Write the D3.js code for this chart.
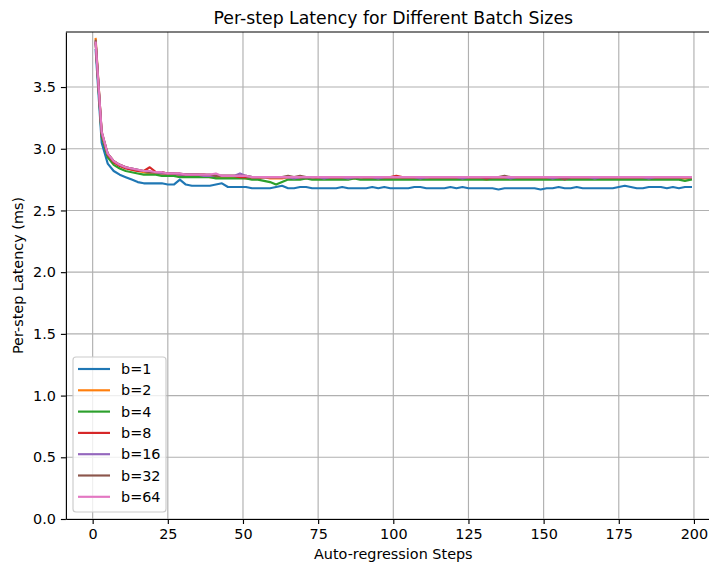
<!DOCTYPE html>
<html>
<head>
<meta charset="utf-8">
<script src="https://cdn.jsdelivr.net/npm/d3@7"></script>
<style>
  body { margin: 0; background: #fff; }
  svg { display: block; font-family: "DejaVu Sans", sans-serif; }
</style>
</head>
<body>
<svg id="chart" width="709" height="565"></svg>
<script>
// steps 1, 3, 5 ... 199
const steps = d3.range(1, 200, 2);

const b1 = [
  3.80, 3.05, 2.88, 2.82, 2.79, 2.77, 2.75, 2.73, 2.72, 2.72,
  2.72, 2.72, 2.71, 2.71, 2.75, 2.71, 2.70, 2.70, 2.70, 2.70,
  2.71, 2.72, 2.69, 2.69, 2.69, 2.69, 2.68, 2.68, 2.68, 2.68,
  2.69, 2.70, 2.68, 2.68, 2.69, 2.69, 2.68, 2.68, 2.68, 2.68,
  2.68, 2.69, 2.68, 2.68, 2.68, 2.68, 2.69, 2.68, 2.69, 2.68,
  2.68, 2.68, 2.68, 2.69, 2.69, 2.68, 2.68, 2.68, 2.68, 2.69,
  2.68, 2.69, 2.68, 2.68, 2.68, 2.68, 2.68, 2.67, 2.68, 2.68,
  2.68, 2.68, 2.68, 2.68, 2.67, 2.68, 2.68, 2.69, 2.68, 2.68,
  2.69, 2.68, 2.68, 2.68, 2.68, 2.68, 2.68, 2.69, 2.70, 2.69,
  2.68, 2.68, 2.69, 2.69, 2.69, 2.68, 2.69, 2.68, 2.69, 2.69
];
const b2 = [
  3.89, 3.13, 2.96, 2.90, 2.87, 2.85, 2.83, 2.82, 2.81, 2.80,
  2.80, 2.79, 2.80, 2.79, 2.79, 2.78, 2.78, 2.78, 2.78, 2.77,
  2.77, 2.77, 2.77, 2.77, 2.77, 2.76, 2.76, 2.76, 2.77, 2.76,
  2.76, 2.76, 2.77, 2.76, 2.76, 2.76, 2.77, 2.76, 2.76, 2.76,
  2.76, 2.76, 2.76, 2.76, 2.77, 2.76, 2.76, 2.76, 2.76, 2.76,
  2.76, 2.76, 2.76, 2.76, 2.76, 2.77, 2.76, 2.76, 2.76, 2.76,
  2.76, 2.76, 2.76, 2.76, 2.76, 2.75, 2.76, 2.76, 2.76, 2.76,
  2.76, 2.76, 2.76, 2.76, 2.76, 2.76, 2.76, 2.76, 2.76, 2.76,
  2.76, 2.76, 2.76, 2.76, 2.76, 2.76, 2.76, 2.76, 2.76, 2.76,
  2.76, 2.76, 2.76, 2.76, 2.76, 2.76, 2.76, 2.76, 2.76, 2.76
];
const b4 = [
  3.86, 3.10, 2.93, 2.87, 2.84, 2.82, 2.81, 2.80, 2.79, 2.79,
  2.79, 2.78, 2.78, 2.78, 2.77, 2.77, 2.77, 2.77, 2.77, 2.77,
  2.76, 2.76, 2.76, 2.76, 2.76, 2.76, 2.75, 2.75, 2.74, 2.73,
  2.71, 2.73, 2.75, 2.75, 2.75, 2.76, 2.75, 2.75, 2.75, 2.75,
  2.75, 2.75, 2.75, 2.76, 2.75, 2.75, 2.75, 2.75, 2.75, 2.75,
  2.75, 2.75, 2.75, 2.75, 2.75, 2.75, 2.75, 2.75, 2.75, 2.75,
  2.75, 2.75, 2.75, 2.75, 2.75, 2.75, 2.75, 2.75, 2.75, 2.75,
  2.75, 2.75, 2.75, 2.75, 2.75, 2.75, 2.75, 2.75, 2.75, 2.75,
  2.75, 2.75, 2.75, 2.75, 2.75, 2.75, 2.75, 2.75, 2.75, 2.75,
  2.75, 2.75, 2.75, 2.75, 2.75, 2.75, 2.75, 2.75, 2.74, 2.75
];
const b8 = [
  3.85, 3.12, 2.95, 2.89, 2.86, 2.84, 2.83, 2.82, 2.82, 2.85,
  2.81, 2.81, 2.80, 2.80, 2.79, 2.79, 2.79, 2.79, 2.79, 2.78,
  2.78, 2.78, 2.78, 2.78, 2.77, 2.77, 2.77, 2.77, 2.77, 2.77,
  2.77, 2.77, 2.77, 2.77, 2.77, 2.77, 2.77, 2.77, 2.77, 2.77,
  2.77, 2.77, 2.77, 2.77, 2.77, 2.77, 2.77, 2.77, 2.77, 2.77,
  2.78, 2.77, 2.77, 2.77, 2.77, 2.77, 2.77, 2.77, 2.77, 2.77,
  2.77, 2.77, 2.77, 2.77, 2.77, 2.76, 2.77, 2.77, 2.77, 2.77,
  2.77, 2.77, 2.77, 2.77, 2.77, 2.77, 2.77, 2.77, 2.77, 2.77,
  2.77, 2.77, 2.77, 2.77, 2.77, 2.77, 2.77, 2.77, 2.77, 2.77,
  2.77, 2.77, 2.77, 2.77, 2.77, 2.77, 2.77, 2.77, 2.77, 2.77
];
const b16 = [
  3.86, 3.13, 2.96, 2.90, 2.87, 2.85, 2.84, 2.83, 2.82, 2.81,
  2.81, 2.80, 2.80, 2.80, 2.79, 2.79, 2.79, 2.79, 2.78, 2.78,
  2.78, 2.78, 2.78, 2.78, 2.80, 2.78, 2.77, 2.77, 2.77, 2.77,
  2.77, 2.77, 2.77, 2.76, 2.77, 2.77, 2.77, 2.77, 2.76, 2.77,
  2.77, 2.77, 2.76, 2.77, 2.77, 2.77, 2.77, 2.76, 2.77, 2.77,
  2.77, 2.77, 2.77, 2.77, 2.76, 2.77, 2.77, 2.77, 2.77, 2.77,
  2.77, 2.76, 2.77, 2.77, 2.77, 2.77, 2.77, 2.77, 2.77, 2.76,
  2.77, 2.77, 2.77, 2.77, 2.77, 2.77, 2.76, 2.77, 2.77, 2.77,
  2.77, 2.77, 2.77, 2.76, 2.77, 2.77, 2.77, 2.77, 2.77, 2.77,
  2.77, 2.77, 2.76, 2.77, 2.77, 2.77, 2.77, 2.77, 2.77, 2.77
];
const b32 = [
  3.875, 3.14, 2.96, 2.90, 2.87, 2.85, 2.84, 2.83, 2.82, 2.81,
  2.81, 2.81, 2.80, 2.80, 2.80, 2.79, 2.79, 2.79, 2.79, 2.79,
  2.78, 2.78, 2.78, 2.78, 2.78, 2.78, 2.77, 2.77, 2.77, 2.77,
  2.77, 2.77, 2.78, 2.77, 2.78, 2.77, 2.77, 2.77, 2.77, 2.77,
  2.77, 2.77, 2.77, 2.77, 2.77, 2.77, 2.77, 2.77, 2.77, 2.77,
  2.77, 2.77, 2.77, 2.77, 2.77, 2.77, 2.77, 2.77, 2.77, 2.77,
  2.77, 2.77, 2.77, 2.77, 2.77, 2.77, 2.77, 2.77, 2.78, 2.77,
  2.77, 2.77, 2.77, 2.77, 2.77, 2.77, 2.77, 2.77, 2.75, 2.77,
  2.77, 2.77, 2.77, 2.77, 2.77, 2.77, 2.77, 2.77, 2.77, 2.77,
  2.77, 2.77, 2.77, 2.77, 2.77, 2.77, 2.77, 2.77, 2.77, 2.77
];
const b64 = [
  3.86, 3.14, 2.96, 2.90, 2.87, 2.85, 2.84, 2.83, 2.82, 2.82,
  2.81, 2.81, 2.80, 2.80, 2.80, 2.79, 2.79, 2.79, 2.79, 2.79,
  2.80, 2.78, 2.78, 2.78, 2.78, 2.78, 2.77, 2.77, 2.77, 2.77,
  2.77, 2.77, 2.77, 2.77, 2.77, 2.77, 2.77, 2.77, 2.77, 2.77,
  2.77, 2.77, 2.77, 2.77, 2.77, 2.77, 2.77, 2.77, 2.77, 2.77,
  2.77, 2.77, 2.77, 2.77, 2.77, 2.77, 2.77, 2.77, 2.77, 2.77,
  2.77, 2.77, 2.77, 2.77, 2.77, 2.77, 2.77, 2.77, 2.77, 2.77,
  2.77, 2.77, 2.77, 2.77, 2.77, 2.77, 2.77, 2.77, 2.77, 2.77,
  2.77, 2.77, 2.77, 2.77, 2.77, 2.77, 2.77, 2.77, 2.77, 2.77,
  2.77, 2.77, 2.77, 2.77, 2.77, 2.77, 2.77, 2.77, 2.77, 2.77
];

const labels = ["b=1", "b=2", "b=4", "b=8", "b=16", "b=32", "b=64"];
const seriesValues = [b1, b2, b4, b8, b16, b32, b64];
const colors = ["#1f77b4", "#ff7f0e", "#2ca02c", "#d62728", "#9467bd", "#8c564b", "#e377c2"];
const xTicks = [0, 25, 50, 75, 100, 125, 150, 175, 200];
const yTicks = [0.0, 0.5, 1.0, 1.5, 2.0, 2.5, 3.0, 3.5];

const svg = d3.select("#chart");
const fontSize = 14.4;
const plotLeft = 65.9, plotRight = 720.7, plotTop = 32, plotBottom = 519;

const x = d3.scaleLinear().domain([-8.9, 208.9]).range([plotLeft, plotRight]);
const y = d3.scaleLinear().domain([0, 3.946]).range([plotBottom, plotTop]);

svg.append("defs").append("clipPath").attr("id", "plotclip")
  .append("rect")
  .attr("x", plotLeft).attr("y", plotTop)
  .attr("width", plotRight - plotLeft).attr("height", plotBottom - plotTop);

// grid
const grid = svg.append("g");
grid.selectAll(".gx").data(xTicks).enter().append("line")
  .attr("x1", d => x(d)).attr("x2", d => x(d))
  .attr("y1", plotTop).attr("y2", plotBottom)
  .attr("stroke", "#b0b0b0").attr("stroke-width", 1.15);
grid.selectAll(".gy").data(yTicks).enter().append("line")
  .attr("x1", plotLeft).attr("x2", plotRight)
  .attr("y1", d => y(d)).attr("y2", d => y(d))
  .attr("stroke", "#b0b0b0").attr("stroke-width", 1.15);

// lines
const line = d3.line()
  .x((d, i) => x(steps[i]))
  .y(d => y(d));

svg.append("g").attr("clip-path", "url(#plotclip)")
  .selectAll("path")
  .data(seriesValues)
  .enter()
  .append("path")
  .attr("d", d => line(d))
  .attr("fill", "none")
  .attr("stroke", (d, i) => colors[i])
  .attr("stroke-width", 2.16)
  .attr("stroke-linejoin", "round")
  .attr("stroke-linecap", "square");

// axes
const xAxis = svg.append("g")
  .attr("transform", `translate(0,${plotBottom})`)
  .call(d3.axisBottom(x).tickValues(xTicks).tickSize(5).tickPadding(5).tickSizeOuter(0));
const yAxis = svg.append("g")
  .attr("transform", `translate(${plotLeft},0)`)
  .call(d3.axisLeft(y).tickValues(yTicks).tickFormat(d3.format(".1f")).tickSize(5).tickPadding(5).tickSizeOuter(0));

[xAxis, yAxis].forEach(a => {
  a.select(".domain").attr("stroke", "#000").attr("stroke-width", 1.15);
  a.selectAll(".tick line").attr("stroke", "#000").attr("stroke-width", 1.15);
  a.selectAll(".tick text")
    .attr("fill", "#000")
    .style("font-family", "DejaVu Sans")
    .style("font-size", fontSize + "px");
});

// top spine (right spine is outside the picture)
svg.append("line")
  .attr("x1", plotLeft).attr("x2", plotRight)
  .attr("y1", plotTop).attr("y2", plotTop)
  .attr("stroke", "#000").attr("stroke-width", 1.15);

// labels
svg.append("text")
  .attr("x", (plotLeft + plotRight) / 2).attr("y", 24)
  .attr("text-anchor", "middle")
  .style("font-size", "17.3px")
  .text("Per-step Latency for Different Batch Sizes");

svg.append("text")
  .attr("x", (plotLeft + plotRight) / 2).attr("y", 559)
  .attr("text-anchor", "middle")
  .style("font-size", fontSize + "px")
  .text("Auto-regression Steps");

svg.append("text")
  .attr("transform", `translate(23,${(plotTop + plotBottom) / 2}) rotate(-90)`)
  .attr("text-anchor", "middle")
  .style("font-size", fontSize + "px")
  .text("Per-step Latency (ms)");

// legend
const legend = svg.append("g");
legend.append("rect")
  .attr("x", 73).attr("y", 357)
  .attr("width", 93).attr("height", 155)
  .attr("rx", 3)
  .attr("fill", "#fff").attr("fill-opacity", 0.8)
  .attr("stroke", "#cccccc").attr("stroke-width", 1.15);

const item = legend.selectAll(".item")
  .data(labels)
  .enter()
  .append("g")
  .attr("transform", (d, i) => `translate(0,${369 + i * 21.3})`);
item.append("line")
  .attr("x1", 78).attr("x2", 110)
  .attr("stroke", (d, i) => colors[i])
  .attr("stroke-width", 2.16);
item.append("text")
  .attr("x", 121).attr("dy", "0.36em")
  .style("font-size", fontSize + "px")
  .text(d => d);
</script>
</body>
</html>
